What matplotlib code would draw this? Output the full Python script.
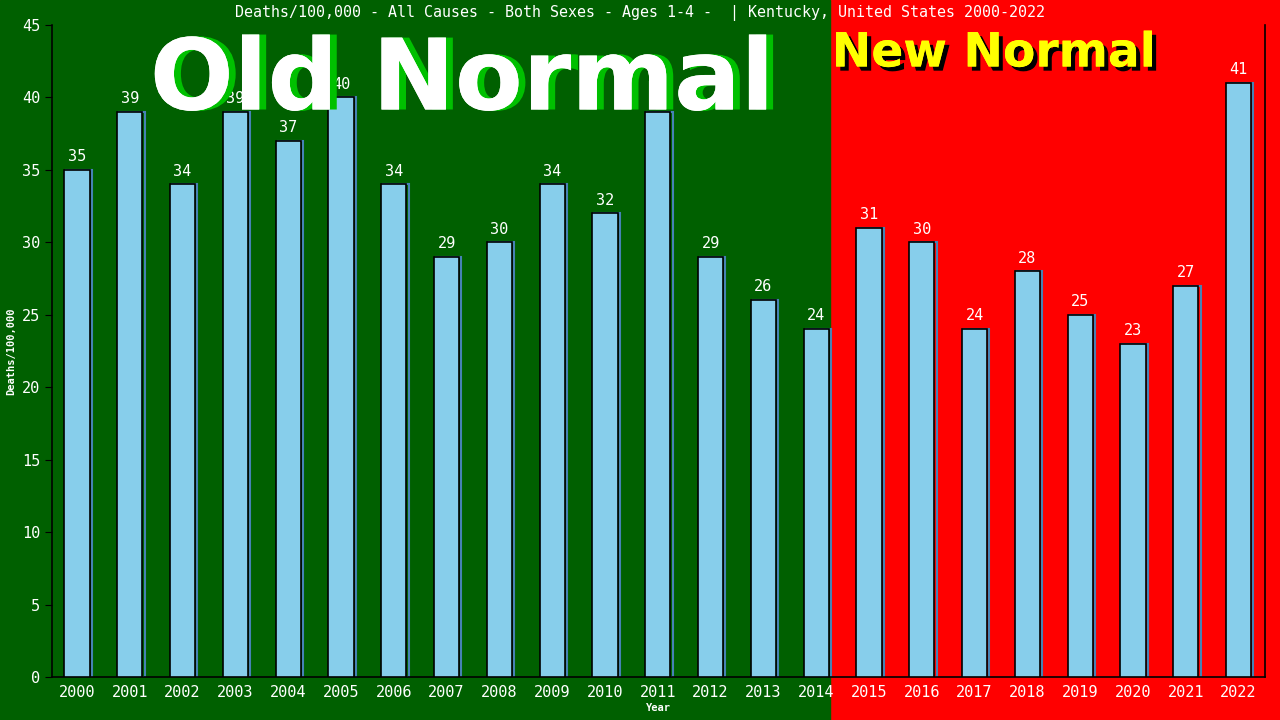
import matplotlib
matplotlib.use('Agg')
import matplotlib.pyplot as plt
import matplotlib.patheffects as pe
import numpy as np

# data
years = [str(y) for y in range(2000, 2023)]
deaths = [35, 39, 34, 39, 37, 40, 34, 29, 30, 34, 32, 39, 29, 26, 24,
          31, 30, 24, 28, 25, 23, 27, 41]

green = '#006000'
red = '#ff0000'
mono = 'DejaVu Sans Mono'

fig = plt.figure(figsize=(12.8, 7.2), dpi=100)
fig.patch.set_facecolor(red)
# green half of the background
fig.add_artist(plt.Rectangle((0, 0), 830/1280, 1, transform=fig.transFigure,
                             color=green, zorder=0))

ax = fig.add_axes([52/1280, 43/720, 1213/1280, 652/720])
ax.set_facecolor('none')

x = np.arange(len(years))
# steelblue shadow behind each bar
ax.bar(x + 0.04, deaths, width=0.48, color='none', edgecolor='#4682b4',
       linewidth=1.5, zorder=2)
ax.bar(x, deaths, width=0.48, color='#87ceeb', edgecolor='black',
       linewidth=1.2, zorder=3)

for xi, v in zip(x, deaths):
    ax.text(xi, v + 0.4, str(v), ha='center', va='bottom', color='white',
            fontsize=11, family=mono, zorder=4)

ax.set_xlim(-0.473, len(years) - 0.5)
ax.set_ylim(0, 45)
ax.set_yticks(range(0, 46, 5))
ax.set_xticks(x)
ax.set_xticklabels(years)
ax.tick_params(axis='x', length=0, colors='white', labelsize=11, pad=6)
ax.tick_params(axis='y', length=5, color='black', labelcolor='white',
               labelsize=11)
for lab in ax.get_xticklabels() + ax.get_yticklabels():
    lab.set_family(mono)
ax.spines['top'].set_visible(False)
for s in ['left', 'right', 'bottom']:
    ax.spines[s].set_color('black')
    ax.spines[s].set_linewidth(1.2)

ax.set_xlabel('Year', color='white', fontsize=7.5, family=mono,
              fontweight='bold', labelpad=2)
ax.set_ylabel('Deaths/100,000', color='white', fontsize=7.5, family=mono,
              fontweight='bold', labelpad=4)

fig.text(640/1280, 1 - 13/720,
         'Deaths/100,000 - All Causes - Both Sexes - Ages 1-4 -  | Kentucky, United States 2000-2022',
         ha='center', va='center', color='white', fontsize=10.8, family=mono)

fig.text(462/1280, 1 - 82/720, 'Old Normal', ha='center', va='center',
         color='white', fontsize=71, fontweight='bold', family='DejaVu Sans',
         path_effects=[pe.withSimplePatchShadow(offset=(5, 0),
                                                shadow_rgbFace='#00c000',
                                                alpha=1),
                       pe.Normal()], zorder=5)
fig.text(994/1280, 1 - 54/720, 'New Normal', ha='center', va='center',
         color='#ffff00', fontsize=34, fontweight='bold', family='DejaVu Sans',
         path_effects=[pe.withSimplePatchShadow(offset=(3, -3),
                                                shadow_rgbFace='black',
                                                alpha=1),
                       pe.Normal()], zorder=5)

fig.savefig('out.png', dpi=100, facecolor=fig.get_facecolor())
